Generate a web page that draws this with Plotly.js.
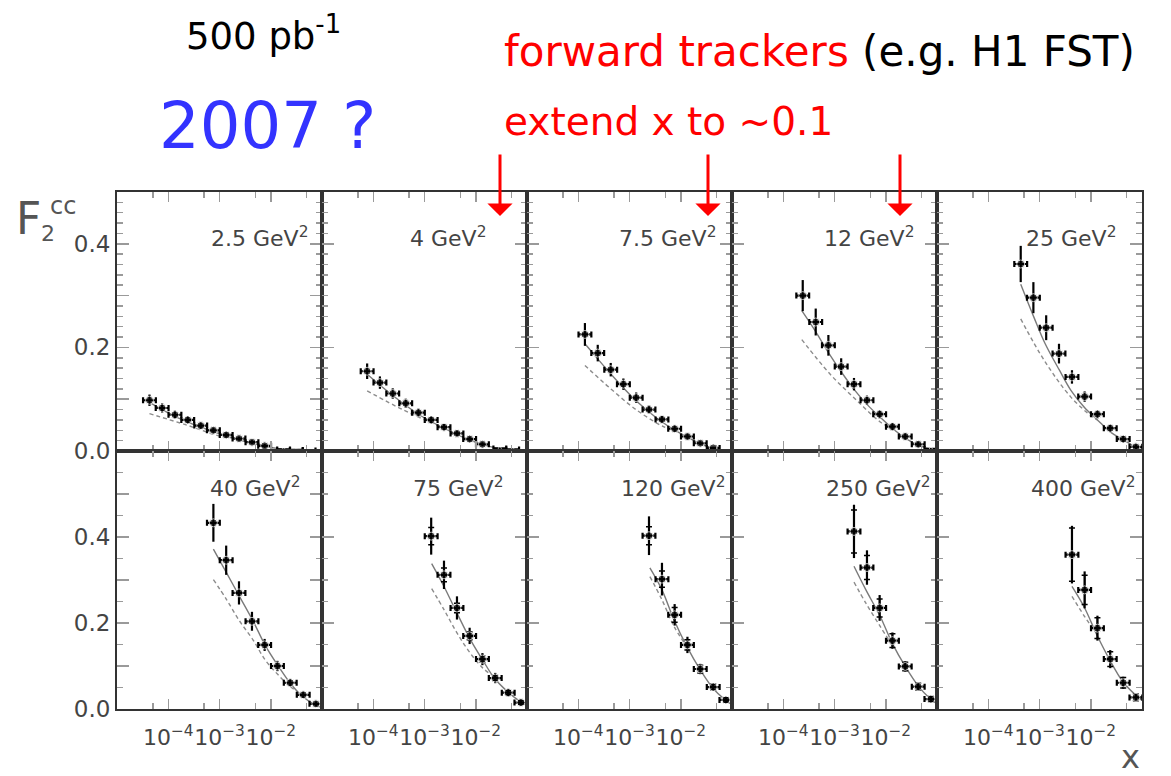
<!DOCTYPE html>
<html><head><meta charset="utf-8">
<script src="https://cdn.plot.ly/plotly-3.0.1.min.js"></script>
<style>html,body{margin:0;padding:0;background:#fff}#chart{width:1171px;height:776px}</style>
</head><body><div id="chart"></div>
<script>
// ---------- DATA ----------
const q2Labels = ['2.5', '4', '7.5', '12', '25', '40', '75', '120', '250', '400'];

// data points: x, F2cc, total error
const x_2p5  = [4.3e-5, 7.6e-5, 1.35e-4, 2.4e-4, 4.3e-4, 7.6e-4, 1.35e-3, 2.4e-3, 4.3e-3, 7.6e-3, 1.78e-2, 3.16e-2, 5.6e-2];
const f2_2p5 = [0.098, 0.083, 0.070, 0.060, 0.049, 0.040, 0.031, 0.024, 0.017, 0.010, 0.003, 0.002, 0.001];
const er_2p5 = [0.011, 0.009, 0.008, 0.007, 0.006, 0.005, 0.005, 0.004, 0.004, 0.004, 0.002, 0.002, 0.002];

const x_4  = [7.6e-5, 1.35e-4, 2.4e-4, 4.3e-4, 7.6e-4, 1.35e-3, 2.4e-3, 4.3e-3, 7.6e-3, 1.35e-2, 2.95e-2, 5.25e-2];
const f2_4 = [0.154, 0.132, 0.111, 0.092, 0.074, 0.060, 0.046, 0.034, 0.023, 0.013, 0.005, 0.003];
const er_4 = [0.015, 0.012, 0.010, 0.009, 0.008, 0.007, 0.006, 0.005, 0.005, 0.004, 0.002, 0.002];

const x_7p5  = [1.35e-4, 2.4e-4, 4.3e-4, 7.6e-4, 1.35e-3, 2.4e-3, 4.3e-3, 7.6e-3, 1.35e-2, 2.4e-2, 4.3e-2];
const f2_7p5 = [0.225, 0.189, 0.157, 0.129, 0.103, 0.080, 0.061, 0.043, 0.028, 0.015, 0.006];
const er_7p5 = [0.022, 0.016, 0.013, 0.011, 0.010, 0.008, 0.007, 0.006, 0.005, 0.004, 0.002];

const x_12  = [2.4e-4, 4.3e-4, 7.6e-4, 1.35e-3, 2.4e-3, 4.3e-3, 7.6e-3, 1.35e-2, 2.4e-2, 4.3e-2, 7.6e-2];
const f2_12 = [0.300, 0.249, 0.204, 0.163, 0.129, 0.098, 0.071, 0.047, 0.028, 0.013, 0.004];
const er_12 = [0.030, 0.026, 0.020, 0.016, 0.012, 0.009, 0.008, 0.007, 0.006, 0.005, 0.002];

const x_25  = [4.3e-4, 7.6e-4, 1.35e-3, 2.4e-3, 4.3e-3, 7.6e-3, 1.35e-2, 2.4e-2, 4.3e-2, 7.6e-2];
const f2_25 = [0.361, 0.296, 0.238, 0.188, 0.143, 0.105, 0.071, 0.044, 0.023, 0.008];
const er_25 = [0.035, 0.030, 0.024, 0.019, 0.013, 0.010, 0.008, 0.007, 0.006, 0.005];

const x_40  = [7.6e-4, 1.35e-3, 2.4e-3, 4.3e-3, 7.6e-3, 1.35e-2, 2.4e-2, 4.3e-2, 7.6e-2];
const f2_40 = [0.433, 0.346, 0.270, 0.204, 0.149, 0.100, 0.061, 0.033, 0.012];
const er_40 = [0.044, 0.034, 0.027, 0.022, 0.014, 0.012, 0.009, 0.007, 0.006];

const x_75  = [1.35e-3, 2.4e-3, 4.3e-3, 7.6e-3, 1.35e-2, 2.4e-2, 4.3e-2, 7.6e-2];
const f2_75 = [0.402, 0.312, 0.235, 0.170, 0.116, 0.072, 0.038, 0.015];
const er_75 = [0.043, 0.033, 0.027, 0.019, 0.014, 0.012, 0.009, 0.007];
const st_75 = [0.020, 0.016, 0.011, 0.009, 0.007, 0.006, 0.005, 0.004];

const x_120  = [2.4e-3, 4.3e-3, 7.6e-3, 1.35e-2, 2.4e-2, 4.3e-2, 7.6e-2];
const f2_120 = [0.403, 0.302, 0.219, 0.149, 0.093, 0.051, 0.021];
const er_120 = [0.045, 0.038, 0.025, 0.019, 0.012, 0.009, 0.007];
const st_120 = [0.021, 0.019, 0.017, 0.012, 0.009, 0.007, 0.005];

const x_250  = [2.4e-3, 4.3e-3, 7.6e-3, 1.35e-2, 2.4e-2, 4.3e-2, 7.6e-2];
const f2_250 = [0.413, 0.329, 0.235, 0.159, 0.099, 0.052, 0.023];
const er_250 = [0.062, 0.040, 0.030, 0.019, 0.012, 0.009, 0.007];
const st_250 = [0.050, 0.028, 0.021, 0.016, 0.010, 0.008, 0.006];

const x_400  = [4.3e-3, 7.6e-3, 1.35e-2, 2.4e-2, 4.3e-2, 7.6e-2];
const f2_400 = [0.359, 0.277, 0.188, 0.116, 0.061, 0.027];
const er_400 = [0.067, 0.043, 0.029, 0.021, 0.014, 0.009];
const st_400 = [0.062, 0.034, 0.024, 0.017, 0.012, 0.008];

// theory curves: solid and dashed
const solidX_2p5 = [4.3e-5, 1.35e-4, 4.3e-4, 1.35e-3, 4.3e-3, 1.35e-2, 4.3e-2, 1e-1];
const solidY_2p5 = [0.094, 0.067, 0.046, 0.029, 0.015, 0.005, 0.001, 0.0];
const dashX_2p5  = [4.3e-5, 2.3e-4, 1.0e-3, 1.9e-3];
const dashY_2p5  = [0.072, 0.050, 0.029, 0.025];

const solidX_4 = [7.6e-5, 2.4e-4, 7.6e-4, 2.4e-3, 7.6e-3, 2.4e-2, 6e-2, 1e-1];
const solidY_4 = [0.148, 0.107, 0.071, 0.044, 0.021, 0.006, 0.001, 0.0];
const dashX_4  = [7.6e-5, 3.9e-4, 1.74e-3, 4.9e-3];
const dashY_4  = [0.116, 0.079, 0.050, 0.031];

const solidX_7p5 = [1.35e-4, 2.3e-4, 4.2e-4, 7.6e-4, 1.35e-3, 2.45e-3, 4.3e-3, 7.8e-3, 1.4e-2, 2.4e-2, 4.3e-2, 7e-2, 1e-1];
const solidY_7p5 = [0.207, 0.180, 0.150, 0.122, 0.097, 0.075, 0.056, 0.040, 0.026, 0.014, 0.005, 0.001, 0.0];
const dashX_7p5  = [1.35e-4, 4.2e-4, 1.38e-3, 4.6e-3, 7.1e-3];
const dashY_7p5  = [0.165, 0.121, 0.079, 0.047, 0.041];

const solidX_12 = [2.3e-4, 4.2e-4, 7.4e-4, 1.35e-3, 2.45e-3, 4.3e-3, 7.8e-3, 1.38e-2, 2.4e-2, 4.4e-2, 7.9e-2, 1e-1];
const solidY_12 = [0.271, 0.232, 0.192, 0.153, 0.118, 0.090, 0.065, 0.043, 0.025, 0.011, 0.003, 0.001];
const dashX_12  = [2.3e-4, 8.1e-4, 2.7e-3, 7.8e-3, 1.2e-2];
const dashY_12  = [0.215, 0.149, 0.098, 0.056, 0.046];

const solidX_25 = [4.3e-4, 7.8e-4, 1.29e-3, 2.45e-3, 4.1e-3, 7.4e-3, 1.35e-2, 2.4e-2, 4.4e-2, 7.4e-2, 1e-1];
const solidY_25 = [0.322, 0.258, 0.207, 0.156, 0.117, 0.085, 0.060, 0.037, 0.021, 0.008, 0.002];
const dashX_25  = [4.3e-4, 1.29e-3, 4.1e-3, 1.07e-2, 1.35e-2];
const dashY_25  = [0.255, 0.172, 0.104, 0.066, 0.060];

const solidX_40 = [7.6e-4, 1.38e-3, 2.45e-3, 4.5e-3, 7.8e-3, 1.38e-2, 2.4e-2, 4.2e-2, 7.2e-2, 1e-1];
const solidY_40 = [0.372, 0.316, 0.262, 0.205, 0.148, 0.101, 0.060, 0.029, 0.010, 0.003];
const dashX_40  = [7.6e-4, 1.38e-3, 2.45e-3, 4.5e-3, 7.8e-3, 1.38e-2, 2.4e-2, 3.2e-2];
const dashY_40  = [0.301, 0.254, 0.205, 0.161, 0.114, 0.080, 0.052, 0.042];

const solidX_75 = [1.38e-3, 2.4e-3, 4.3e-3, 7.8e-3, 1.38e-2, 2.3e-2, 4.2e-2, 7.4e-2, 1e-1];
const solidY_75 = [0.338, 0.285, 0.223, 0.162, 0.113, 0.072, 0.040, 0.017, 0.008];
const dashX_75  = [1.38e-3, 2.4e-3, 4.3e-3, 7.8e-3, 1.38e-2, 2.0e-2];
const dashY_75  = [0.280, 0.231, 0.177, 0.130, 0.095, 0.080];

const solidX_120 = [2.5e-3, 4.3e-3, 7.4e-3, 1.32e-2, 2.4e-2, 4.2e-2, 7.4e-2, 1e-1];
const solidY_120 = [0.328, 0.277, 0.207, 0.145, 0.091, 0.049, 0.021, 0.010];
const dashX_120  = [2.5e-3, 4.3e-3, 7.4e-3, 1.2e-2];
const dashY_120  = [0.308, 0.254, 0.192, 0.152];

const solidX_250 = [2.4e-3, 4.1e-3, 7.8e-3, 1.35e-2, 2.4e-2, 4.4e-2, 7.2e-2, 1e-1];
const solidY_250 = [0.332, 0.277, 0.215, 0.152, 0.099, 0.052, 0.025, 0.012];
const dashX_250  = [2.4e-3, 4.1e-3, 7.8e-3, 1.2e-2];
const dashY_250  = [0.295, 0.246, 0.192, 0.157];

const solidX_400 = [4.3e-3, 7.6e-3, 1.32e-2, 2.3e-2, 4.2e-2, 7.4e-2, 1e-1];
const solidY_400 = [0.285, 0.235, 0.172, 0.116, 0.064, 0.033, 0.020];
const dashX_400  = [4.3e-3, 7.6e-3, 1.1e-2];
const dashY_400  = [0.262, 0.215, 0.187];

// axis tick labels
const xTickVals  = [1e-4, 1e-3, 1e-2];
const xTickText  = ['10<sup>\u22124</sup>', '10<sup>\u22123</sup>', '10<sup>\u22122</sup>'];
const xMinorVals = [5e-5, 5e-4, 5e-3, 5e-2];
const yTickValsTop = [0, 0.1, 0.2, 0.3, 0.4, 0.5];
const yTickTextTop = ['0.0', '', '0.2', '', '0.4', ''];
const yTickValsBot = [0, 0.1, 0.2, 0.3, 0.4, 0.5, 0.6];
const yTickTextBot = ['0.0', '', '0.2', '', '0.4', '', ''];

// ---------- assemble ----------
const ptsX   = [x_2p5, x_4, x_7p5, x_12, x_25, x_40, x_75, x_120, x_250, x_400];
const ptsY   = [f2_2p5, f2_4, f2_7p5, f2_12, f2_25, f2_40, f2_75, f2_120, f2_250, f2_400];
const ptsE   = [er_2p5, er_4, er_7p5, er_12, er_25, er_40, er_75, er_120, er_250, er_400];
const ptsS   = [null, null, null, null, null, null, st_75, st_120, st_250, st_400];
const solidX = [solidX_2p5, solidX_4, solidX_7p5, solidX_12, solidX_25, solidX_40, solidX_75, solidX_120, solidX_250, solidX_400];
const solidY = [solidY_2p5, solidY_4, solidY_7p5, solidY_12, solidY_25, solidY_40, solidY_75, solidY_120, solidY_250, solidY_400];
const dashX  = [dashX_2p5, dashX_4, dashX_7p5, dashX_12, dashX_25, dashX_40, dashX_75, dashX_120, dashX_250, dashX_400];
const dashY  = [dashY_2p5, dashY_4, dashY_7p5, dashY_12, dashY_25, dashY_40, dashY_75, dashY_120, dashY_250, dashY_400];

// layout geometry (pixels)
const W = 1171, H = 776;
const colEdges = [117, 322, 527, 732, 937, 1142];
const rowTop = [192, 451], rowBot = [451, 709];
const labelInset = [12, 39, 14, 21, 24, 20, 22, 5, 5, 5];
const labelY = [237, 487];
const halfBinDecades = 0.125;
const xf = Math.pow(10, halfBinDecades);

const AX_FONT = {family: 'DejaVu Sans, sans-serif', size: 22, color: '#444'};
const traces = [];
const layout = {
  width: W, height: H, margin: {l: 0, r: 0, t: 0, b: 0},
  paper_bgcolor: '#fff', plot_bgcolor: 'rgba(0,0,0,0)', showlegend: false,
  annotations: [], shapes: []
};

for (let i = 0; i < 10; i++) {
  const row = i < 5 ? 0 : 1, col = i % 5;
  const xa = 'x' + (i + 1), ya = 'y' + (i + 1);
  const axKey = i === 0 ? '' : String(i + 1);
  traces.push({x: dashX[i], y: dashY[i], xaxis: xa, yaxis: ya, type: 'scatter', mode: 'lines',
    line: {color: '#8c8c8c', width: 1.4, dash: '4px,3px', shape: 'spline'}, hoverinfo: 'skip'});
  traces.push({x: solidX[i], y: solidY[i], xaxis: xa, yaxis: ya, type: 'scatter', mode: 'lines',
    line: {color: '#7a7a7a', width: 1.4, shape: 'spline'}, hoverinfo: 'skip'});
  if (ptsS[i]) {
    traces.push({x: ptsX[i], y: ptsY[i], xaxis: xa, yaxis: ya, type: 'scatter', mode: 'markers',
      marker: {size: 2, color: '#000', opacity: 0},
      error_y: {type: 'data', array: ptsS[i], color: '#000', thickness: 1.5, width: 3}, hoverinfo: 'skip'});
  }
  traces.push({x: ptsX[i], y: ptsY[i], xaxis: xa, yaxis: ya, type: 'scatter', mode: 'markers',
    marker: {size: ptsY[i].map(v => v < 0.006 ? 3 : 8), color: '#000'},
    error_y: {type: 'data', array: ptsE[i], color: '#000', thickness: 2.2, width: 0},
    error_x: {type: 'data', symmetric: false, array: ptsX[i].map(v => v * (xf - 1)),
      arrayminus: ptsX[i].map(v => v * (1 - 1 / xf)), color: '#000', thickness: 2.2, width: 3}});

  layout['xaxis' + axKey] = {
    domain: [colEdges[col] / W, colEdges[col + 1] / W], anchor: ya, type: 'log', range: [-5, -1],
    showline: true, linecolor: '#333', linewidth: 2, mirror: 'allticks',
    ticks: 'inside', ticklen: 10, tickwidth: 1.5, tickcolor: '#9a9a9a',
    tickmode: 'array', tickvals: xTickVals, ticktext: xTickText, tickangle: 0,
    showticklabels: row === 1, tickfont: AX_FONT, ticklabelstandoff: 8,
    minor: {tickmode: 'array', tickvals: xMinorVals, ticks: 'inside', ticklen: 6, tickwidth: 1.5, tickcolor: '#9a9a9a'},
    showgrid: false, zeroline: false, fixedrange: true
  };
  const top = row === 0;
  layout['yaxis' + axKey] = {
    domain: [1 - (top ? rowTop[1] : rowBot[1]) / H, 1 - (top ? rowTop[0] : rowBot[0]) / H],
    anchor: xa, range: top ? [0, 0.5] : [0, 0.6],
    showline: true, linecolor: '#333', linewidth: 2, mirror: 'allticks',
    ticks: 'inside', ticklen: 12, tickwidth: 1.5, tickcolor: '#9a9a9a',
    tickmode: 'array', tickvals: top ? yTickValsTop : yTickValsBot, ticktext: top ? yTickTextTop : yTickTextBot,
    showticklabels: col === 0, tickfont: {family: 'DejaVu Sans, sans-serif', size: 23, color: '#444'},
    minor: {dtick: top ? 0.02 : 0.05, ticks: 'inside', ticklen: 6, tickwidth: 1.5, tickcolor: '#9a9a9a'},
    showgrid: false, zeroline: false, fixedrange: true
  };

  layout.annotations.push({
    xref: 'paper', yref: 'paper', x: (colEdges[col + 1] - labelInset[i]) / W, y: 1 - labelY[row] / H,
    xanchor: 'right', yanchor: 'middle', showarrow: false,
    text: q2Labels[i] + ' GeV<sup>2</sup>', font: {family: 'DejaVu Sans, sans-serif', size: 22, color: '#444'}
  });
}

// axis titles
const titleFont = {family: 'DejaVu Sans, sans-serif', color: '#555'};
layout.annotations.push({xref: 'paper', yref: 'paper', x: 14 / W, y: 1 - 218 / H, xanchor: 'left', yanchor: 'middle',
  showarrow: false, text: 'F', font: Object.assign({size: 44}, titleFont)});
layout.annotations.push({xref: 'paper', yref: 'paper', x: 48 / W, y: 1 - 206 / H, xanchor: 'left', yanchor: 'middle',
  showarrow: false, text: 'cc', font: Object.assign({size: 24}, titleFont)});
layout.annotations.push({xref: 'paper', yref: 'paper', x: 39 / W, y: 1 - 233 / H, xanchor: 'left', yanchor: 'middle',
  showarrow: false, text: '2', font: Object.assign({size: 22}, titleFont)});
layout.annotations.push({xref: 'paper', yref: 'paper', x: 1130 / W, y: 1 - 757 / H, xanchor: 'center', yanchor: 'middle',
  showarrow: false, text: 'x', font: Object.assign({size: 32}, titleFont)});

// slide texts
const slideFont = 'DejaVu Sans, sans-serif';
layout.annotations.push({xref: 'paper', yref: 'paper', x: 184 / W, y: 1 - 34 / H, xanchor: 'left', yanchor: 'middle',
  showarrow: false, text: '500 pb<sup>-1</sup>', font: {family: slideFont, size: 37, color: '#000'}});
layout.annotations.push({xref: 'paper', yref: 'paper', x: 157 / W, y: 1 - 126 / H, xanchor: 'left', yanchor: 'middle',
  showarrow: false, text: '2007 ?', font: {family: slideFont, size: 64, color: '#3333ff'}});
layout.annotations.push({xref: 'paper', yref: 'paper', x: 502 / W, y: 1 - 52 / H, xanchor: 'left', yanchor: 'middle',
  showarrow: false, text: '<span style="color:#ff0000">forward trackers</span> (e.g. H1 FST)',
  font: {family: slideFont, size: 42, color: '#000'}});
layout.annotations.push({xref: 'paper', yref: 'paper', x: 502 / W, y: 1 - 121 / H, xanchor: 'left', yanchor: 'middle',
  showarrow: false, text: 'extend x to ~0.1', font: {family: slideFont, size: 39, color: '#ff0000'}});

// red arrows
const arrowPx = [500, 708, 900];
arrowPx.forEach(px => layout.annotations.push({
  xref: 'paper', yref: 'paper', x: px / W, y: 1 - 216 / H, ax: 0, ay: -63, text: '', showarrow: true,
  arrowcolor: '#ff0000', arrowwidth: 3, arrowhead: 1, arrowsize: 1.4
}));

Plotly.newPlot('chart', traces, layout, {staticPlot: true, displayModeBar: false});
</script></body></html>
